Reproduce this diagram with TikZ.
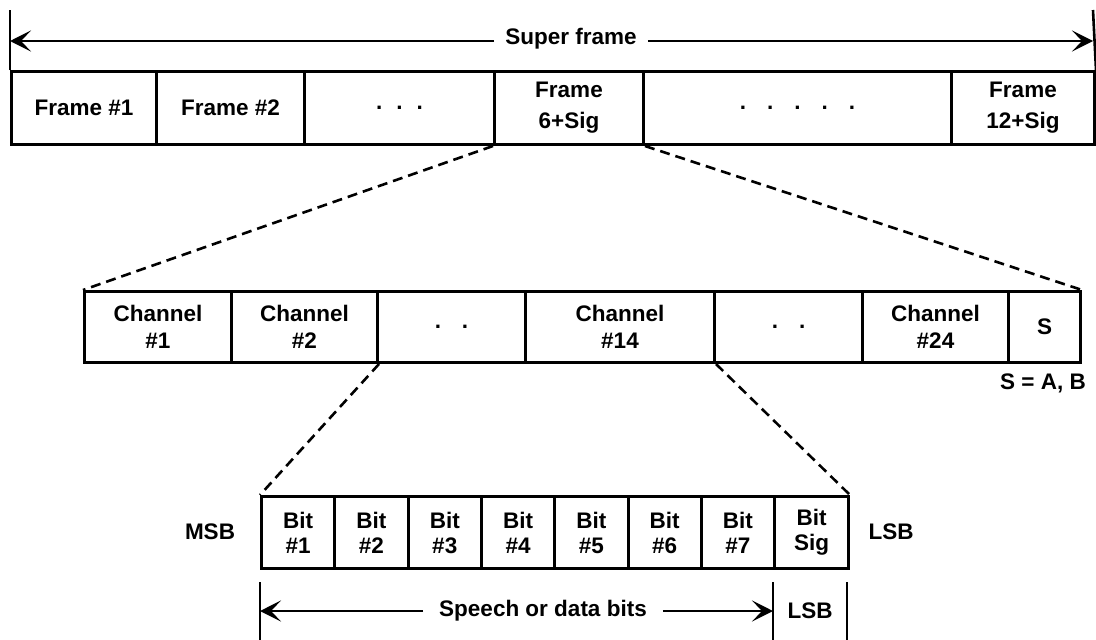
\documentclass[tikz,border=0pt]{standalone}
\usepackage{fontspec}
\setmainfont{Liberation Sans}
\usetikzlibrary{arrows.meta}
\newcommand\dfs{\fontsize{22.5}{27}\bfseries\selectfont}
\begin{document}
\begin{tikzpicture}[x=1pt,y=-1pt,
  cell/.style={draw, line width=3pt, anchor=north west, inner sep=0pt, align=center, font=\dfs},
  toprow/.style={cell, minimum height=73pt, font=\fontsize{22.5}{31}\bfseries\selectfont},
  midrow/.style={cell, minimum height=71pt, font=\fontsize{22.5}{27}\bfseries\selectfont},
  bitrow/.style={cell, minimum height=72pt, font=\fontsize{22.5}{25}\bfseries\selectfont},
  zoomline/.style={line width=2.6pt, dash pattern=on 10pt off 6pt},
  tick/.style={line width=2.6pt},
  dimarrow/.style={line width=2.6pt, -{Stealth[length=21pt,width=21pt,inset=10pt]}},
  lbl/.style={font=\dfs, inner sep=0pt}]
\useasboundingbox (0,0) rectangle (1096,640);
% top row
\node[toprow, minimum width=145pt] (f1) at (10,70) {Frame \#1};
\node[toprow, minimum width=148pt] (f2) at (155,70) {Frame \#2};
\node[toprow, minimum width=190pt] (fd1) at (303,70) {.\hspace{14pt}.\hspace{14pt}.};
\node[toprow, minimum width=149pt] (f6) at (493,70) {Frame\\6+Sig};
\node[toprow, minimum width=308pt] (fd2) at (642,70) {.\hspace{21pt}.\hspace{21pt}.\hspace{21pt}.\hspace{21pt}.};
\node[toprow, minimum width=143pt] (f12) at (950,70) {Frame\\12+Sig};
% super frame arrow
\node[lbl, inner xsep=11pt] (sf) at (571,39) {Super frame};
\coordinate (sfL) at (10,41);
\coordinate (sfR) at (1093,41);
\coordinate (tkL) at (10,10);
\coordinate (tkR) at (1093,10);
\draw[tick] (f1.north west) -- (tkL);
\draw[tick] (f12.north east) -- (tkR);
\draw[dimarrow] (sf.west |- sfL) -- (sfL);
\draw[dimarrow] (sf.east |- sfR) -- (sfR);
% middle row
\node[midrow, minimum width=147pt] (c1) at (83,290) {Channel\\\#1};
\node[midrow, minimum width=146pt] (c2) at (230,290) {Channel\\\#2};
\node[midrow, minimum width=148pt] (cd1) at (376,290) {.\hspace{21pt}.};
\node[midrow, minimum width=189pt] (c14) at (524,290) {Channel\\\#14};
\node[midrow, minimum width=148pt] (cd2) at (713,290) {.\hspace{21pt}.};
\node[midrow, minimum width=146pt] (c24) at (861,290) {Channel\\\#24};
\node[midrow, minimum width=72pt] (s) at (1007,290) {S};
\node[lbl] (sab) at (1043,383) {S = A, B};
% zoom lines top -> middle
\draw[zoomline] (f6.south west) -- (c1.north west);
\draw[zoomline] (f6.south east) -- (s.north east);
% bottom row
\foreach \i in {1,...,7} {
  \node[bitrow, minimum width=73.3pt] (b\i) at ({260+73.3*(\i-1)},495) {Bit\\\#\i};
}
\node[bitrow, minimum width=74pt] (bs) at (773,495) {Bit\\Sig};
\node[lbl] (msb) at (210,532) {MSB};
\node[lbl] (lsb) at (891,532) {LSB};
% zoom lines middle -> bottom
\draw[zoomline] (c2.south east) -- (b1.north west);
\draw[zoomline] (c14.south east) -- (bs.north east);
% speech arrow
\coordinate (t1) at (260,582);
\coordinate (t1b) at (260,640);
\coordinate (t2) at (773,582);
\coordinate (t2b) at (773,640);
\coordinate (t3) at (847,582);
\coordinate (t3b) at (847,640);
\draw[tick] (t1) -- (t1b);
\draw[tick] (t2) -- (t2b);
\draw[tick] (t3) -- (t3b);
\node[lbl, inner xsep=16pt] (sp) at (543,611) {Speech or data bits};
\draw[dimarrow] (sp.west) -- (sp.west -| t1);
\draw[dimarrow] (sp.east) -- (sp.east -| t2);
\node[lbl] (lsb2) at (810,611) {LSB};
\end{tikzpicture}
\end{document}
